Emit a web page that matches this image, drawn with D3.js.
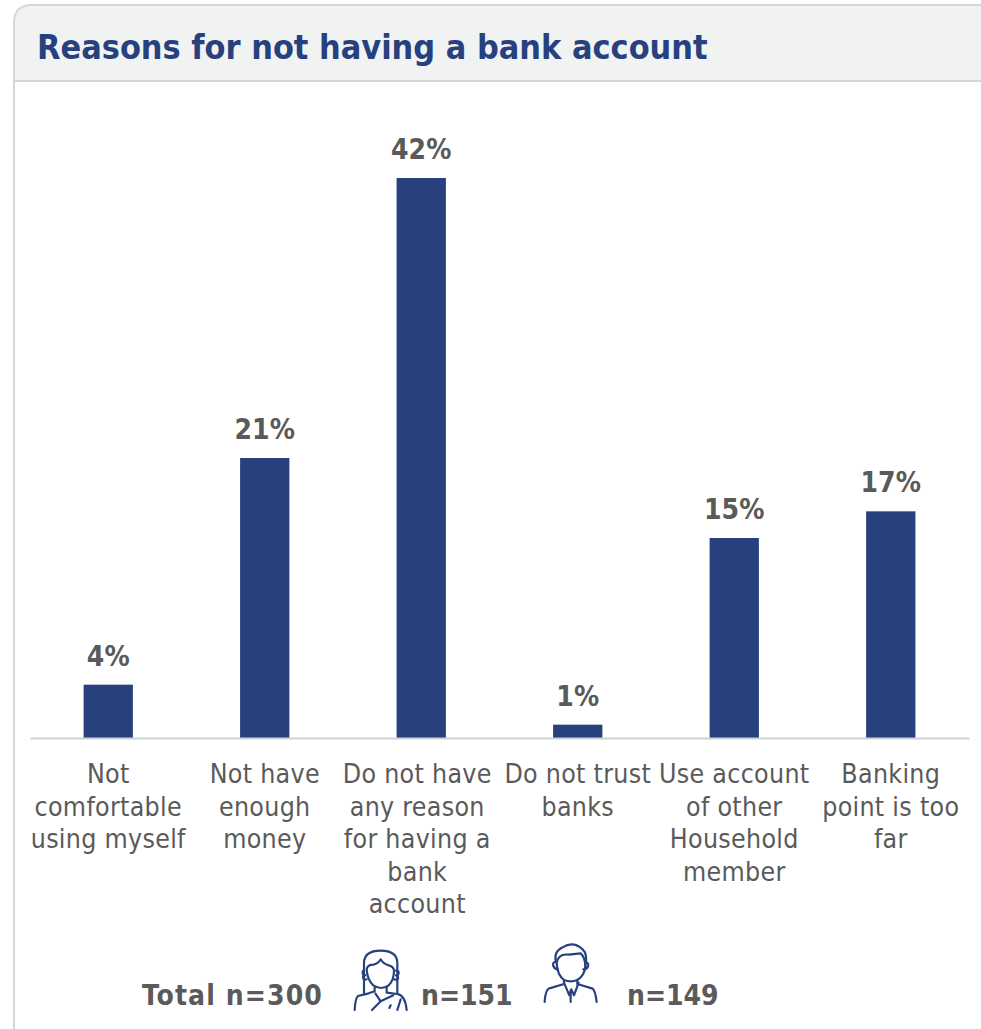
<!DOCTYPE html>
<html>
<head>
<meta charset="utf-8">
<script src="https://cdn.jsdelivr.net/npm/d3@7/dist/d3.min.js"></script>
<style>
html,body{margin:0;padding:0;background:#fff;overflow:hidden}
text{font-family:"DejaVu Sans Condensed","DejaVu Sans",sans-serif}
</style>
</head>
<body>
<svg id="chart" width="981" height="1029"></svg>
<script>
const chartTitle = "Reasons for not having a bank account";
const categories = [
  ["Not","comfortable","using myself"],
  ["Not have","enough","money"],
  ["Do not have","any reason","for having a","bank","account"],
  ["Do not trust","banks"],
  ["Use account","of other","Household","member"],
  ["Banking","point is too","far"]
];
const shares = [4, 21, 42, 1, 15, 17];
const sampleLabels = ["Total n=300", "n=151", "n=149"];

const navy = "#27417f", grey = "#5a5a5a", rule = "#d4d7d7";
const svg = d3.select("#chart");

// Card: rounded panel with a tinted header strip, open on the right and below
svg.append("path")
  .attr("d", "M981,5 H32 Q14,5 14,23 V81 H981 Z")
  .attr("fill", "#f1f3f3");
svg.append("path")
  .attr("d", "M981,5 H32 Q14,5 14,23 V1029")
  .attr("fill", "none").attr("stroke", rule).attr("stroke-width", 2);
svg.append("line").attr("x1", 14).attr("x2", 981).attr("y1", 81).attr("y2", 81)
  .attr("stroke", rule).attr("stroke-width", 2);
svg.append("text").attr("x", 37).attr("y", 59)
  .attr("fill", navy).attr("font-size", 33.9).attr("font-weight", 700)
  .text(chartTitle);

// Scales
const x = d3.scaleBand().domain(d3.range(categories.length)).range([30, 969]).paddingInner(0.685).paddingOuter(0.3425);
const y = d3.scaleLinear().domain([0, 42]).range([738, 178]);

// Bars and their value labels
svg.selectAll("rect.bar").data(shares).join("rect").attr("class", "bar")
  .attr("x", (d, i) => x(i)).attr("width", x.bandwidth())
  .attr("y", d => y(d)).attr("height", d => y(0) - y(d))
  .attr("fill", navy);
svg.selectAll("text.val").data(shares).join("text").attr("class", "val")
  .attr("x", (d, i) => x(i) + x.bandwidth() / 2).attr("y", d => y(d) - 19)
  .attr("text-anchor", "middle").attr("fill", grey)
  .attr("font-size", 28).attr("font-weight", 700)
  .text(d => d + "%");

// Category axis with wrapped labels; the long third label sits slightly left of its bar
const axis = svg.append("g").attr("transform", `translate(0,${y(0)})`)
  .call(d3.axisBottom(x).tickSize(0).tickFormat(""));
axis.select(".domain").attr("stroke", "#cfd2d2").attr("stroke-width", 2);
const labelShift = i => (i === 2 ? -4 : 0);
const tick = svg.selectAll("text.cat").data(categories).join("text").attr("class", "cat")
  .attr("text-anchor", "middle").attr("fill", grey).attr("font-size", 26.5)
  .attr("letter-spacing", 0.3);
tick.selectAll("tspan").data((d, i) => d.map(s => ({s, i}))).join("tspan")
  .attr("x", d => x(d.i) + x.bandwidth() / 2 + labelShift(d.i))
  .attr("y", (d, j) => 783 + j * 32.5)
  .text(d => d.s);

// Sample size footer
const foot = [[142, sampleLabels[0], 1.1], [421, sampleLabels[1], 0], [627, sampleLabels[2], 0]];
svg.selectAll("text.foot").data(foot).join("text").attr("class", "foot")
  .attr("x", d => d[0]).attr("y", 1005).attr("fill", grey)
  .attr("font-size", 28).attr("font-weight", 700)
  .attr("letter-spacing", d => d[2]).text(d => d[1]);

// Respondent icons
const icon = (paths) => {
  const g = svg.append("g").attr("transform", "translate(340,930) scale(0.3333)")
    .attr("fill", "none").attr("stroke", navy).attr("stroke-width", 6.5)
    .attr("stroke-linecap", "round").attr("stroke-linejoin", "round");
  paths.forEach(p => g.append("path").attr("d", p));
};
icon([
  "M72,150 V100 Q72,62 122,62 Q172,62 172,100 V190",
  "M72,122 Q68,122 68,128 Q68,136 76,136 M72,136 Q68,136 70,146 Q74,150 80,148",
  "M168,122 Q176,122 176,128 Q176,136 168,136 M168,136 Q176,138 174,146 Q170,150 162,148",
  "M80,118 Q82,104 100,104 Q114,102 122,88 Q130,102 146,106 Q160,108 162,122 Q162,150 146,166 Q124,182 100,166 Q82,150 80,118 Z",
  "M104,172 V184 L86,190 L54,198 Q46,204 44,240",
  "M72,150 V192",
  "M140,172 V188 L172,192 Q196,196 200,240",
  "M106,190 L122,214 L96,240",
  "M122,214 L160,196",
  "M148,234 L152,226",
  "M172,240 L182,208"
]);
icon([
  "M648,96 Q640,66 668,52 Q700,32 728,58 Q744,72 736,112",
  "M650,100 Q654,70 686,74 L722,70 Q736,82 736,110 Q734,136 712,150 Q692,158 672,150 Q652,134 650,100 Z",
  "M648,96 Q636,96 640,108 Q644,118 654,118",
  "M736,96 Q748,98 744,110 Q740,118 730,118",
  "M672,150 V162 L626,176 Q616,182 614,216",
  "M712,150 V162 L758,176 Q766,182 770,216",
  "M672,158 L688,196 L694,178 L702,196 L716,158",
  "M692,182 V216"
]);
</script>
</body>
</html>
